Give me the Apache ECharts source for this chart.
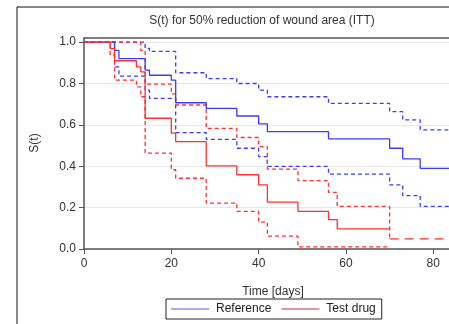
<!DOCTYPE html>
<html>
<head>
<meta charset="utf-8">
<script src="https://cdn.jsdelivr.net/npm/echarts@6/dist/echarts.min.js"></script>
<style>
  html, body { margin: 0; padding: 0; background: #fff; }
  #chart { width: 449px; height: 324px; }
</style>
</head>
<body>
<div id="chart"></div>
<script>
// Kaplan-Meier estimates (days, S(t))
const refDays = [0, 7, 8, 14, 15, 20, 21, 28, 35, 40, 42, 56, 70, 73, 77, 90];
const refS = [1, 0.96, 0.92, 0.865, 0.84, 0.816, 0.707, 0.68, 0.643, 0.605, 0.567, 0.532, 0.487, 0.436, 0.39, 0.39];
const refUpperDays = [0, 14, 15, 21, 28, 35, 40, 42, 56, 70, 73, 77, 90];
const refUpper = [1, 0.97, 0.955, 0.852, 0.824, 0.8, 0.768, 0.736, 0.704, 0.664, 0.624, 0.576, 0.576];
const refLowerDays = [0, 7, 8, 14, 15, 21, 28, 35, 40, 42, 56, 70, 73, 77, 90];
const refLower = [1, 0.88, 0.836, 0.768, 0.728, 0.563, 0.53, 0.487, 0.447, 0.399, 0.362, 0.31, 0.258, 0.206, 0.206];

const testDays = [0, 6, 7, 12, 13, 14, 20, 21, 28, 35, 40, 42, 49, 56, 58, 70];
const testS = [1, 0.969, 0.91, 0.88, 0.856, 0.632, 0.56, 0.519, 0.402, 0.359, 0.31, 0.227, 0.182, 0.142, 0.097, 0.097];
const testUpperDays = [0, 13, 14, 20, 21, 28, 35, 40, 42, 49, 56, 58, 70, 90];
const testUpper = [1, 0.96, 0.797, 0.75, 0.696, 0.583, 0.539, 0.495, 0.386, 0.331, 0.274, 0.206, 0.049, 0.049];
const testLowerDays = [0, 6, 7, 12, 13, 14, 20, 21, 28, 35, 40, 42, 49, 70];
const testLower = [1, 0.937, 0.816, 0.784, 0.736, 0.463, 0.383, 0.342, 0.222, 0.182, 0.13, 0.062, 0.01, 0.01];

const xTicks = [0, 20, 40, 60, 80];
const yTicks = [0, 0.2, 0.4, 0.6, 0.8, 1.0];

const BLUE = '#3b3bff';
const RED = '#ff3030';
const FONT = 'Liberation Sans, Arial, sans-serif';
const X_MAX = 83.6; // visible end of the time axis (picture is cut at the right)

const pairs = (xs, ys) => xs.map((x, i) => [x, ys[i]]);

// step line helper
function km(name, data, color, dash, width) {
  return {
    name: name,
    type: 'line',
    step: 'end',
    data: data,
    symbol: 'none',
    silent: true,
    clip: true,
    lineStyle: { color: color, width: width || 1.3, type: dash || 'solid' },
    itemStyle: { color: color },
  };
}

// upper CI of test drug: tail after last event drawn with longer dashes
const tailStart = testUpperDays.indexOf(70);
const testUpperData = pairs(testUpperDays, testUpper);

const chart = echarts.init(document.getElementById('chart'));
chart.setOption({
  animation: false,
  textStyle: { fontFamily: FONT },
  grid: {
    left: 84,
    top: 38,
    right: 0,
    height: 211,
  },
  xAxis: [
    {
      type: 'value',
      min: 0,
      max: X_MAX,
      interval: 20,
      axisLine: { show: true, lineStyle: { color: '#555', width: 1.5 } },
      axisTick: { show: true, length: 5, lineStyle: { color: '#555' } },
      axisLabel: {
        color: '#333',
        fontSize: 12,
        margin: 9,
        showMaxLabel: false,
        formatter: (v) => (xTicks.includes(v) ? String(v) : ''),
      },
      splitLine: { show: false },
    },
    {
      // top frame line only
      type: 'value',
      position: 'top',
      min: 0,
      max: X_MAX,
      axisLine: { show: true, lineStyle: { color: '#5a5a5a', width: 1.5 } },
      axisTick: { show: false },
      axisLabel: { show: false },
      splitLine: { show: false },
    },
  ],
  yAxis: {
    type: 'value',
    min: 0,
    max: 1.02,
    interval: 0.2,
    axisLine: { show: true, lineStyle: { color: '#555', width: 1.5 } },
    axisTick: { show: true, length: 5, lineStyle: { color: '#555' } },
    axisLabel: {
      color: '#333',
      fontSize: 12,
      margin: 8,
      showMaxLabel: false,
      formatter: (v) => (yTicks.some((t) => Math.abs(t - v) < 1e-6) ? v.toFixed(1) : ''),
    },
    splitLine: { show: true, lineStyle: { color: '#e8e8e8', width: 1 } },
  },
  legend: {
    data: [
      { name: 'Reference', icon: 'rect', itemStyle: { color: '#8c8cff' } },
      { name: 'Test drug', icon: 'rect', itemStyle: { color: '#e0707c' } },
    ],
    left: 166,
    top: 299,
    itemWidth: 38,
    itemHeight: 1.5,
    itemGap: 10,
    padding: [4, 6, 4, 5],
    borderColor: '#222',
    borderWidth: 1,
    borderRadius: 0,
    textStyle: { fontSize: 12, color: '#222', padding: [0, 0, 0, 2] },
    selectedMode: false,
  },
  graphic: [
    {
      type: 'rect',
      shape: { x: 17, y: 7, width: 460, height: 340 },
      style: { fill: 'none', stroke: '#111', lineWidth: 1 },
      silent: true,
    },
    {
      type: 'text',
      x: 262,
      y: 15,
      style: { text: 'S(t) for 50% reduction of wound area (ITT)', fill: '#333', font: '12px ' + FONT, align: 'center' },
    },
    {
      type: 'text',
      x: 273,
      y: 286,
      style: { text: 'Time [days]', fill: '#333', font: '12px ' + FONT, align: 'center' },
    },
    {
      type: 'text',
      x: 29,
      y: 143,
      rotation: Math.PI / 2,
      style: { text: 'S(t)', fill: '#333', font: '12px ' + FONT, align: 'center' },
    },
  ],
  series: [
    km('Reference upper', pairs(refUpperDays, refUpper), BLUE, [4, 3]),
    km('Reference lower', pairs(refLowerDays, refLower), BLUE, [4, 3]),
    km('Test upper', testUpperData.slice(0, tailStart + 1), RED, [4, 3]),
    km('Test upper tail', testUpperData.slice(tailStart), RED, [9, 6]),
    km('Test lower', pairs(testLowerDays, testLower), RED, [4, 3]),
    km('Reference', pairs(refDays, refS), BLUE),
    km('Test drug', pairs(testDays, testS), RED),
  ],
});
</script>
</body>
</html>
